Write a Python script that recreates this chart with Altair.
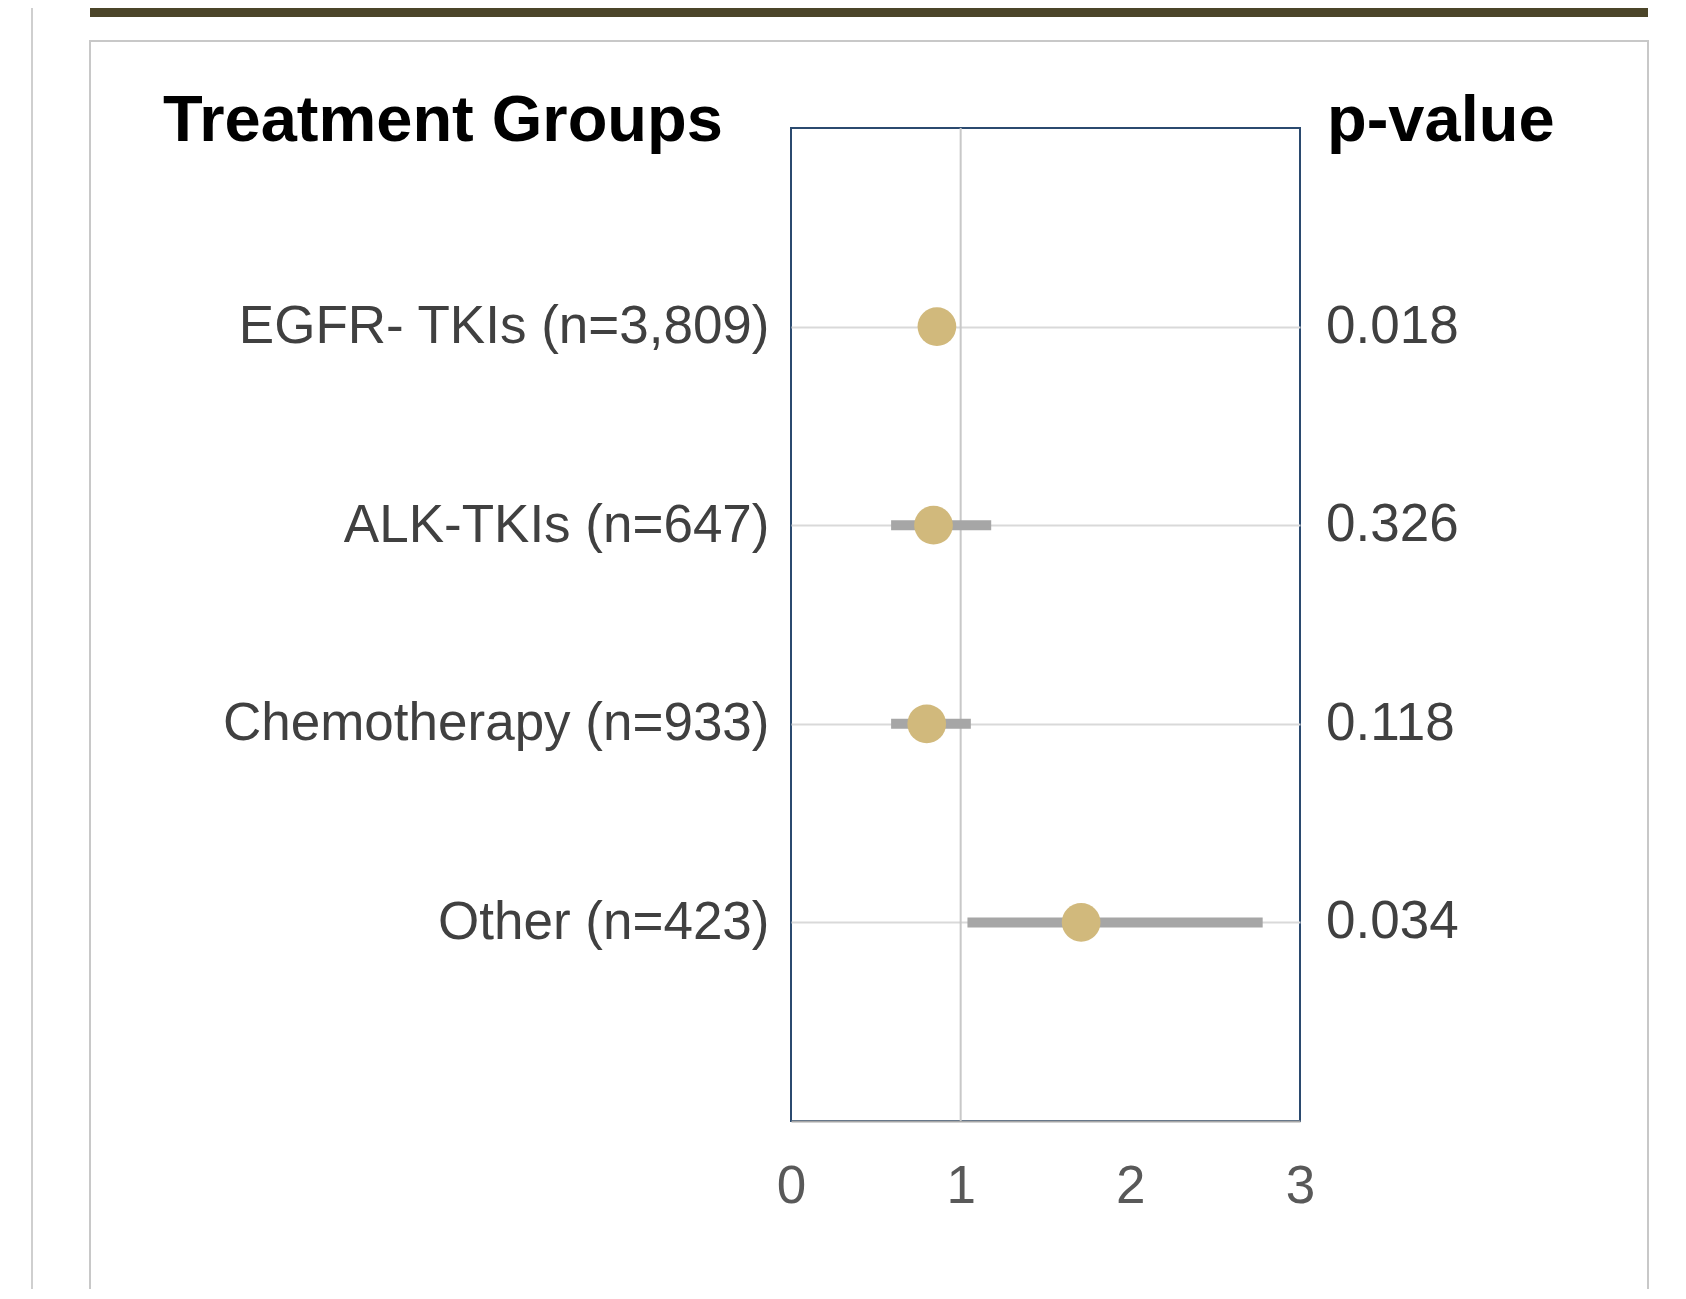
import altair as alt
import pandas as pd

groups = ["EGFR- TKIs (n=3,809)", "ALK-TKIs (n=647)", "Chemotherapy (n=933)", "Other (n=423)"]
hr = [0.86, 0.84, 0.80, 1.71]
ci_low = [0.78, 0.59, 0.59, 1.04]
ci_high = [0.95, 1.18, 1.06, 2.78]
p_values = ["0.018", "0.326", "0.118", "0.034"]
x_ticks = [0, 1, 2, 3]
ref_value = [1]

df = pd.DataFrame({"group": groups, "hr": hr, "lo": ci_low, "hi": ci_high, "p": p_values})

W, H = 509, 993
FONT = "Liberation Sans"

y_enc = alt.Y(
    "group:N", sort=groups,
    scale=alt.Scale(type="point", padding=1),
    axis=alt.Axis(title=None, labelFontSize=53, labelColor="#404040", labelFont=FONT,
                  labelPadding=22, ticks=False, domain=False, grid=True,
                  gridColor="#D9D9D9", gridWidth=2, labelLimit=0),
)
x_axis = alt.Axis(values=x_ticks, title=None, format="d", labelFontSize=53, labelColor="#595959",
                  labelFont=FONT, labelPadding=39, labelFlush=False, ticks=False, grid=False,
                  domainColor="#A6A6A6", domainWidth=2)
x_scale = alt.Scale(domain=[0, 3], nice=False)

one = alt.Data(values=[{"k": 0}])

top_bar = alt.Chart(one).mark_rect(color="#4B4529").encode(
    x=alt.value(-701), x2=alt.value(857), y=alt.value(-130), y2=alt.value(-111)
)
left_line = alt.Chart(one).mark_rule(color="#CFCFCF", strokeWidth=2).encode(
    x=alt.value(-759), y=alt.value(-130), y2=alt.value(1300)
)
panel = alt.Chart(one).mark_rect(fillOpacity=0, stroke="#C8C8C8", strokeWidth=2).encode(
    x=alt.value(-701), x2=alt.value(857), y=alt.value(-87), y2=alt.value(1300)
)

ref_line = alt.Chart(pd.DataFrame({"ref": ref_value})).mark_rule(color="#C8C8C8", strokeWidth=2).encode(
    x=alt.X("ref:Q", scale=x_scale, axis=x_axis)
)

base = alt.Chart(df)
bars = base.mark_rule(color="#A6A6A6", strokeWidth=10, strokeCap="butt").encode(
    x=alt.X("lo:Q", scale=x_scale, axis=x_axis), x2="hi:Q", y=y_enc
)
points = base.mark_circle(size=1500, color="#D1B97C", opacity=1).encode(
    x=alt.X("hr:Q", scale=x_scale, axis=x_axis), y=y_enc
)
ptext = base.mark_text(align="left", baseline="middle", fontSize=53, font=FONT, color="#404040").encode(
    x=alt.value(W + 26), y=y_enc, text="p:N"
)

h1 = alt.Chart(one).mark_text(text="Treatment Groups", align="center", baseline="alphabetic",
                              fontSize=65, fontWeight="bold", font=FONT, color="#000000").encode(
    x=alt.value(-348), y=alt.value(13)
)
h2 = alt.Chart(one).mark_text(text="p-value", align="left", baseline="alphabetic",
                              fontSize=65, fontWeight="bold", font=FONT, color="#000000").encode(
    x=alt.value(536), y=alt.value(13)
)

chart = alt.layer(panel, left_line, top_bar, ref_line, bars, points, ptext, h1, h2).properties(
    width=W, height=H,
    autosize=alt.AutoSizeParams(type="none"),
    padding={"left": 783, "top": 120, "right": 376, "bottom": 168},
    background="white",
).configure_view(stroke="#2B4A6F", strokeWidth=2)

chart.save("out.html", embed_options={"renderer": "svg", "actions": False})
